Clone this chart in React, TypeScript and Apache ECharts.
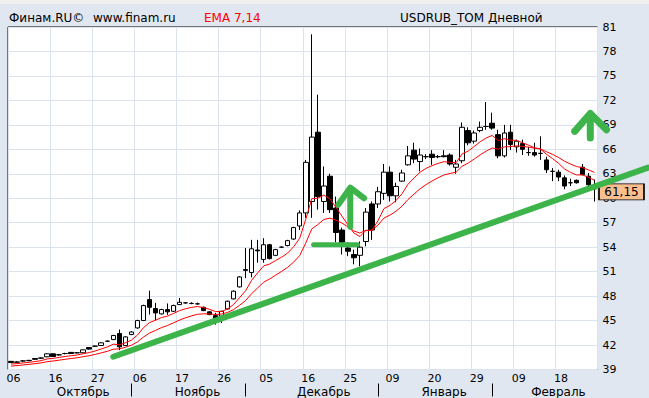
import React, { useEffect, useRef } from "react";
import * as echarts from "echarts";

const dates = [
  "2014-10-06","2014-10-07","2014-10-08","2014-10-09","2014-10-10","2014-10-13","2014-10-15","2014-10-16","2014-10-17","2014-10-20",
  "2014-10-21","2014-10-22","2014-10-23","2014-10-24","2014-10-27","2014-10-28","2014-10-29","2014-10-30","2014-10-31","2014-11-03",
  "2014-11-05","2014-11-06","2014-11-07","2014-11-10","2014-11-11","2014-11-12","2014-11-13","2014-11-14","2014-11-17","2014-11-18",
  "2014-11-19","2014-11-20","2014-11-21","2014-11-24","2014-11-25","2014-11-26","2014-11-27","2014-11-28","2014-12-01","2014-12-02",
  "2014-12-03","2014-12-04","2014-12-05","2014-12-08","2014-12-09","2014-12-10","2014-12-11","2014-12-12","2014-12-15","2014-12-16",
  "2014-12-17","2014-12-18","2014-12-19","2014-12-22","2014-12-23","2014-12-24","2014-12-25","2014-12-26","2014-12-29","2014-12-30",
  "2015-01-05","2015-01-06","2015-01-08","2015-01-09","2015-01-12","2015-01-13","2015-01-14","2015-01-15","2015-01-16","2015-01-19",
  "2015-01-20","2015-01-21","2015-01-22","2015-01-23","2015-01-26","2015-01-27","2015-01-28","2015-01-29","2015-01-30","2015-02-02",
  "2015-02-03","2015-02-04","2015-02-05","2015-02-06","2015-02-09","2015-02-10","2015-02-11","2015-02-12","2015-02-13","2015-02-16",
  "2015-02-17","2015-02-18","2015-02-19","2015-02-20","2015-02-24","2015-02-25","2015-02-26","2015-02-27"
];

const opens = [
  40.00,39.92,40.05,40.08,40.35,40.38,40.56,40.92,40.80,40.96,
  41.10,41.05,41.05,41.70,41.86,41.94,42.47,42.67,43.41,41.94,
  43.30,44.10,45.00,47.57,46.47,45.82,46.35,46.14,46.96,47.17,
  47.10,47.05,46.63,46.07,45.60,45.53,46.43,47.66,49.13,51.25,
  50.90,53.65,52.50,54.30,53.00,54.00,54.20,55.00,56.60,58.20,
  59.60,68.10,59.60,62.70,58.80,56.10,53.90,53.10,53.00,54.70,
  59.30,59.30,60.60,63.20,60.30,62.10,64.10,65.90,64.50,65.10,
  65.40,65.10,65.20,65.30,63.80,64.60,68.30,67.00,68.30,68.80,
  69.20,67.80,65.20,68.10,66.30,66.70,65.60,65.60,65.50,64.70,
  63.30,63.20,62.50,61.90,62.20,63.80,62.70,61.20
];
const closes = [
  39.85,39.90,40.05,40.12,40.25,40.42,40.92,40.60,40.80,40.96,
  40.96,41.05,41.41,41.50,41.86,42.27,42.47,43.17,41.78,43.00,
  43.60,45.00,46.84,46.63,45.94,46.35,46.07,46.84,47.24,47.17,
  47.10,47.05,46.22,45.74,45.25,46.14,47.37,48.60,50.35,51.16,
  53.80,53.55,54.30,52.60,53.70,54.00,54.80,56.40,58.20,64.40,
  67.50,60.20,61.50,58.60,55.80,54.60,53.50,52.70,54.00,58.30,
  56.10,60.80,63.20,60.30,61.45,63.10,65.20,64.80,65.30,65.10,
  65.00,65.10,65.10,64.20,64.20,68.70,66.80,68.00,68.70,68.80,
  68.60,65.20,68.00,66.60,67.00,66.00,65.60,65.30,65.50,63.50,
  63.30,62.60,61.50,61.90,61.90,62.90,61.65,61.15
];
const lows = [
  39.80,39.85,39.95,40.02,40.20,40.32,40.50,40.55,40.70,40.85,
  40.90,40.98,41.00,41.45,41.78,41.90,42.40,42.60,41.37,41.85,
  43.20,44.00,44.95,45.74,45.04,45.75,45.70,46.05,46.90,47.10,
  47.00,46.95,46.15,45.65,44.50,44.70,46.35,47.60,49.05,50.20,
  50.30,52.10,52.10,52.50,52.90,53.90,54.10,54.90,56.10,57.60,
  57.60,58.60,58.20,58.20,54.60,53.10,52.90,51.90,51.65,54.10,
  54.90,58.80,59.80,59.60,59.50,62.00,64.00,64.30,63.30,64.80,
  64.10,64.90,65.00,64.00,63.00,64.30,66.50,66.70,68.10,68.40,
  68.40,64.90,65.00,65.90,65.60,65.30,65.20,65.10,64.70,63.10,
  62.10,62.10,61.10,61.50,61.80,62.80,61.00,59.60
];
const highs = [
  40.05,40.00,40.12,40.18,40.40,40.48,40.98,40.98,40.90,41.05,
  41.15,41.10,41.45,41.75,41.92,42.32,42.55,43.25,43.90,43.10,
  43.70,45.10,46.95,48.67,47.17,46.45,47.10,46.95,47.78,47.25,
  47.25,47.20,46.70,46.15,45.94,46.20,47.45,48.70,50.45,53.90,
  54.90,54.90,55.10,54.40,53.80,54.10,54.90,56.50,58.50,64.70,
  80.10,72.70,63.90,63.00,60.20,56.40,54.60,53.70,54.70,58.80,
  59.60,61.40,64.20,63.90,61.90,63.50,66.40,66.80,66.10,65.40,
  65.90,65.30,65.90,65.50,64.70,69.30,68.70,68.30,69.40,71.80,
  70.50,68.40,69.00,69.00,67.20,67.20,66.30,66.80,67.60,65.10,
  63.70,63.50,62.80,62.40,62.30,64.20,63.10,62.30
];

// EMA settings and the EMA values just before the first bar
const emaPeriods = [7, 14];
const emaSeeds = [39.6, 39.35];

// axis labels
const dayTickEvery = 7;
const monthLabels = ["Октябрь", "Ноябрь", "Декабрь", "Январь", "Февраль"];
const monthLabelIdx = [12, 31, 52, 72, 91];
const monthSeparatorIdx = [20, 39, 61, 80];
const yMin = 39;
const yMax = 81;
const yStep = 3;

// hand-drawn annotations: [bar index, price]
const trendLine = [[17.0, 40.56], [105.9, 63.75]];
const supportDash = [[50.3, 54.31], [57.6, 54.31]];
const arrow1Shaft = [[56.4, 56.5], [56.4, 61.2]];
const arrow1Head = [[54.4, 59.2], [56.4, 61.3], [58.7, 60.0]];
const arrow2Shaft = [[96.3, 67.4], [96.3, 70.3]];
const arrow2Head = [[93.7, 68.2], [96.3, 70.4], [99.0, 68.4]];

function ema(values: number[], n: number, seed: number) {
  const k = 2 / (n + 1);
  let prev = seed;
  return values.map((v) => {
    prev = prev + k * (v - prev);
    return +prev.toFixed(3);
  });
}

export default function App() {
  const ref = useRef<HTMLDivElement>(null);
  useEffect(() => {
    if (!ref.current) return;
    const chart = echarts.init(ref.current, undefined, { renderer: "svg" });
    const font = "DejaVu Sans";
    const candles = dates.map((_, i) => [opens[i], closes[i], lows[i], highs[i]]);
    const emaA = ema(closes, emaPeriods[0], emaSeeds[0]);
    const emaB = ema(closes, emaPeriods[1], emaSeeds[1]);
    const last = closes[closes.length - 1];
    const green = "#3cb44a";
    // plot geometry
    const gLeft = 8;
    const gRight = 51.5;
    const gTop = 27;
    const gBottom = 28.5;
    const W = 649;
    const barPx = (W - gLeft - gRight) / dates.length;
    const overlayMax = -0.5 + (W - gLeft) / barPx;
    const annot = (data: number[][], w: number) => ({
      type: "line",
      xAxisIndex: 2,
      yAxisIndex: 1,
      data,
      clip: false,
      showSymbol: false,
      symbol: "none",
      silent: true,
      z: 10,
      lineStyle: { color: green, width: w, cap: "round", join: "round" },
    });
    chart.setOption({
      animation: false,
      backgroundColor: "#e1e7f0",
      textStyle: { fontFamily: font },
      grid: [
        {
          left: gLeft,
          right: gRight,
          top: gTop,
          bottom: gBottom,
          show: true,
          backgroundColor: "#ffffff",
          borderColor: "#000000",
          borderWidth: 1,
        },
        { left: gLeft, right: 0, top: gTop, bottom: gBottom, show: false },
      ],
      graphic: [
        { type: "rect", shape: { x: 0, y: 0, width: 649, height: 4 }, style: { fill: "#f0f0f0" } },
        { type: "text", x: 9, y: 18, style: { text: "Финам.RU©", fill: "#000", font: `12px '${font}'`, verticalAlign: "middle" } },
        { type: "text", x: 93, y: 18, style: { text: "www.finam.ru", fill: "#000", font: `12px '${font}'`, verticalAlign: "middle" } },
        { type: "text", x: 204, y: 18, style: { text: "EMA 7,14", fill: "#ff0000", font: `12px '${font}'`, verticalAlign: "middle" } },
        { type: "text", x: 400, y: 18, style: { text: "USDRUB_TOM Дневной", fill: "#000", font: `12px '${font}'`, verticalAlign: "middle" } },
      ],
      xAxis: [
        {
          type: "category",
          gridIndex: 0,
          data: dates,
          boundaryGap: true,
          axisLine: { show: false },
          axisTick: { show: false },
          axisLabel: {
            interval: (i: number) => i % dayTickEvery === 0,
            formatter: (v: string) => v.slice(8, 10),
            color: "#000",
            fontSize: 11,
            fontFamily: font,
            margin: 3,
            padding: [0, 0, 0, 5],
          },
          splitLine: {
            show: true,
            interval: (i: number) => i % dayTickEvery === 0,
            lineStyle: { color: "#dde3ec", width: 1 },
          },
        },
        {
          type: "category",
          gridIndex: 0,
          data: dates,
          boundaryGap: true,
          position: "bottom",
          offset: 14,
          axisLine: { show: false },
          axisTick: {
            show: true,
            alignWithLabel: true,
            interval: (i: number) => monthSeparatorIdx.indexOf(i) >= 0,
            length: 13,
            lineStyle: { color: "#000", width: 1 },
          },
          axisLabel: {
            interval: (i: number) => monthLabelIdx.indexOf(i) >= 0,
            formatter: (_v: string, i: number) => {
              const k = monthLabelIdx.indexOf(i);
              return k >= 0 ? monthLabels[k] : "";
            },
            color: "#000",
            fontSize: 12,
            fontFamily: font,
            margin: 2,
          },
          splitLine: { show: false },
        },
        { type: "value", gridIndex: 1, min: -0.5, max: overlayMax, show: false },
      ],
      yAxis: [
        {
          type: "value",
          gridIndex: 0,
          position: "right",
          min: yMin,
          max: yMax,
          interval: yStep,
          axisLine: { show: false },
          axisTick: { show: false },
          axisLabel: { color: "#000", fontSize: 11, fontFamily: font, margin: 5 },
          splitLine: { show: true, lineStyle: { color: "#dde3ec", width: 1 } },
        },
        { type: "value", gridIndex: 1, min: yMin, max: yMax, show: false },
      ],
      series: [
        {
          type: "candlestick",
          xAxisIndex: 0,
          yAxisIndex: 0,
          data: candles,
          barWidth: 5,
          z: 3,
          itemStyle: {
            color: "#ffffff",
            color0: "#000000",
            borderColor: "#000000",
            borderColor0: "#000000",
            borderWidth: 1,
          },
          markPoint: {
            silent: true,
            symbol: "rect",
            symbolSize: [45, 16],
            symbolOffset: [27, 3],
            itemStyle: { color: "#f9bf8f", borderColor: "#000", borderWidth: 1 },
            label: {
              show: true,
              position: "inside",
              color: "#000",
              fontSize: 12,
              fontFamily: font,
              formatter: () => last.toFixed(2).replace(".", ","),
            },
            data: [{ coord: [dates[dates.length - 1], last], value: last }],
          },
        },
        {
          type: "line",
          xAxisIndex: 0,
          yAxisIndex: 0,
          data: emaA,
          showSymbol: false,
          symbol: "none",
          z: 4,
          lineStyle: { color: "#ff0000", width: 1 },
        },
        {
          type: "line",
          xAxisIndex: 0,
          yAxisIndex: 0,
          data: emaB,
          showSymbol: false,
          symbol: "none",
          z: 4,
          lineStyle: { color: "#ff0000", width: 1 },
        },
        annot(trendLine, 6),
        annot(supportDash, 5),
        annot(arrow1Shaft, 6),
        annot(arrow1Head, 6),
        annot(arrow2Shaft, 7),
        annot(arrow2Head, 7),
      ],
    });
    return () => chart.dispose();
  }, []);
  return (
    <div
      ref={ref}
      style={{ position: "fixed", left: 0, top: 0, width: 649, height: 398 }}
    />
  );
}
